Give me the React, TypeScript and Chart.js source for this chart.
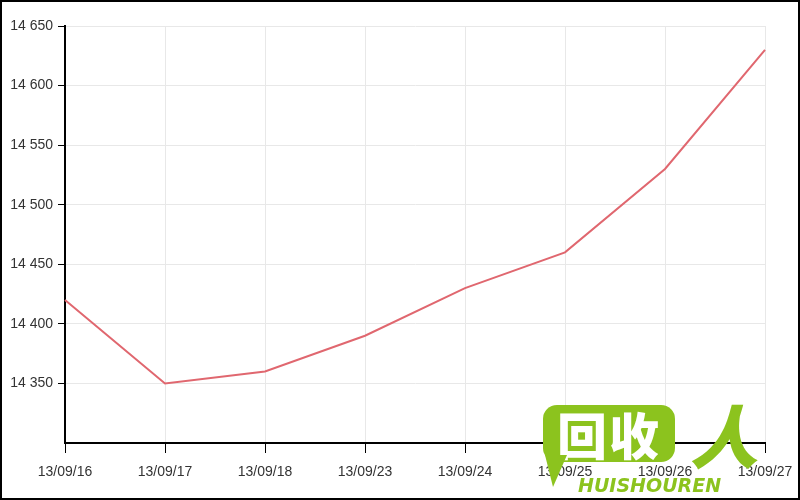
import React, { useEffect, useRef } from "react";
import { Chart, registerables } from "chart.js";

Chart.register(...registerables);

const categories = ["13/09/16", "13/09/17", "13/09/18", "13/09/23", "13/09/24", "13/09/25", "13/09/26", "13/09/27"];
const prices = [14420, 14350, 14360, 14390, 14430, 14460, 14530, 14630];
const yMin = 14300;
const yMax = 14650;
const yStep = 50;

const fmt = (v: number) => {
  const s = String(Math.round(v));
  return s.replace(/\B(?=(\d{3})+(?!\d))/g, " ");
};

export default function App() {
  const ref = useRef<HTMLCanvasElement>(null);
  useEffect(() => {
    document.body.style.margin = "0";
    const chart = new Chart(ref.current!, {
      type: "line",
      data: {
        labels: categories,
        datasets: [
          {
            data: prices,
            borderColor: "#e0676f",
            borderWidth: 2,
            pointRadius: 0,
            tension: 0,
            fill: false,
          },
        ],
      },
      options: {
        responsive: false,
        animation: false,
        layout: { padding: { top: 26, right: 35, bottom: 0, left: 0 } },
        plugins: { legend: { display: false }, tooltip: { enabled: false } },
        scales: {
          x: {
            offset: false,
            border: { color: "#000", width: 2 },
            grid: { color: "#e8e8e8", lineWidth: 1, tickColor: "#000", tickLength: 10, drawTicks: true },
            ticks: {
              color: "#333",
              font: { family: "'Liberation Sans', Arial, sans-serif", size: 14 },
              padding: 11,
              maxRotation: 0,
              autoSkip: false,
            },
            afterFit: (s: any) => {
              s.height = 57;
              s.paddingLeft = 0;
              s.paddingRight = 0;
            },
          },
          y: {
            min: yMin,
            max: yMax,
            border: { color: "#000", width: 2 },
            grid: {
              color: "#e8e8e8",
              lineWidth: 1,
              tickLength: 7,
              tickColor: (ctx: any) => (ctx.tick && ctx.tick.value === yMin ? "rgba(0,0,0,0)" : "#000"),
            },
            ticks: {
              stepSize: yStep,
              color: "#333",
              font: { family: "'Liberation Sans', Arial, sans-serif", size: 14 },
              padding: 5,
              callback: (v: any) => (Number(v) === yMin ? "" : fmt(Number(v))),
            },
            afterFit: (s: any) => {
              s.width = 65;
              s.paddingTop = 0;
              s.paddingBottom = 0;
            },
          },
        },
      },
    });
    return () => chart.destroy();
  }, []);

  return (
    <div style={{ position: "relative", width: 800, height: 500, background: "#fff", overflow: "hidden" }}>
      <canvas ref={ref} width={800} height={500} style={{ display: "block" }} />
      <div
        style={{
          position: "absolute",
          left: 0,
          top: 0,
          width: 800,
          height: 500,
          boxSizing: "border-box",
          border: "2px solid #000",
          pointerEvents: "none",
        }}
      />
      {/* watermark */}
      <div
        style={{
          position: "absolute",
          left: 543,
          top: 405,
          width: 132,
          height: 57,
          background: "#8cc31e",
          borderRadius: 14,
          color: "#fff",
          fontFamily: "'Noto Sans CJK SC', sans-serif",
          fontWeight: 900,
          fontSize: 50,
          lineHeight: "57px",
          textAlign: "center",
          letterSpacing: 2,
        }}
      >
        回收
      </div>
      <div
        style={{
          position: "absolute",
          left: 545,
          top: 455,
          width: 0,
          height: 0,
          borderLeft: "8px solid transparent",
          borderRight: "14px solid transparent",
          borderTop: "32px solid #8cc31e",
        }}
      />
      <div
        style={{
          position: "absolute",
          left: 690,
          top: 396,
          color: "#8cc31e",
          fontFamily: "'Noto Sans CJK SC', sans-serif",
          fontWeight: 900,
          fontSize: 68,
          lineHeight: "76px",
          fontStyle: "italic",
        }}
      >
        人
      </div>
      <div
        style={{
          position: "absolute",
          left: 578,
          top: 474,
          color: "#8cc31e",
          fontFamily: "'DejaVu Sans', sans-serif",
          fontWeight: "bold",
          fontStyle: "italic",
          fontSize: 19,
          lineHeight: "22px",
          letterSpacing: 0,
        }}
      >
        HUISHOUREN
      </div>
    </div>
  );
}
